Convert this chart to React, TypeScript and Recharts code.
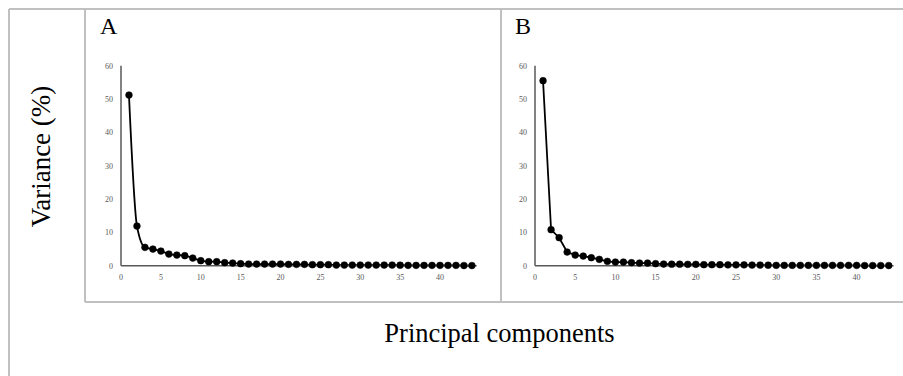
import React from 'react';
import { LineChart, Line, XAxis, YAxis } from 'recharts';

const components: number[] = Array.from({ length: 44 }, (_, i) => i + 1);

const varianceA: number[] = [
  51.2, 11.9, 5.5, 5.0, 4.4, 3.5, 3.2, 3.0, 2.3, 1.5,
  1.2, 1.2, 0.9, 0.8, 0.6, 0.5, 0.5, 0.5, 0.5, 0.5,
  0.4, 0.4, 0.4, 0.3, 0.3, 0.3, 0.2, 0.2, 0.2, 0.2,
  0.2, 0.2, 0.2, 0.2, 0.15, 0.1, 0.1, 0.1, 0.1, 0.1,
  0.1, 0.1, 0.05, 0.05,
];

const varianceB: number[] = [
  55.5, 10.8, 8.4, 4.1, 3.2, 2.9, 2.4, 1.9, 1.3, 1.1,
  1.1, 0.9, 0.8, 0.8, 0.6, 0.5, 0.45, 0.45, 0.4, 0.4,
  0.3, 0.3, 0.3, 0.25, 0.25, 0.25, 0.2, 0.2, 0.15, 0.1,
  0.1, 0.1, 0.1, 0.1, 0.1, 0.1, 0.1, 0.1, 0.1, 0.1,
  0.05, 0.05, 0.05, 0.05,
];

const xTicks: number[] = [0, 5, 10, 15, 20, 25, 30, 35, 40];
const yTicks: number[] = [0, 10, 20, 30, 40, 50, 60];

const panelLabels: string[] = ['A', 'B'];
const yTitle = 'Variance (%)';
const xTitle = 'Principal components';

const dataA = components.map((c, i) => ({ pc: c, v: varianceA[i] }));
const dataB = components.map((c, i) => ({ pc: c, v: varianceB[i] }));

const serif = '"Liberation Serif", "Times New Roman", serif';
const tickStyle = { fontSize: 8, fill: '#595959', fontFamily: serif };
const border = '#c0c0c0';

function Panel({ data, curve, left, top, width, height, margin }: any) {
  return (
    <div style={{ position: 'absolute', left, top, width, height }}>
      <LineChart width={width} height={height} data={data} margin={margin}>
        <XAxis
          dataKey="pc"
          type="number"
          domain={[0, 44.6]}
          ticks={xTicks}
          tickLine={false}
          tickSize={6}
          tickMargin={3}
          height={30}
          axisLine={{ stroke: '#595959', strokeWidth: 1.5 }}
          tick={tickStyle}
          interval={0}
          allowDataOverflow
        />
        <YAxis
          type="number"
          domain={[0, 60]}
          ticks={yTicks}
          tickLine={false}
          tickSize={6}
          tickMargin={2}
          width={30}
          axisLine={{ stroke: '#595959', strokeWidth: 1.5 }}
          tick={tickStyle}
          interval={0}
        />
        <Line
          dataKey="v"
          type={curve}
          stroke="#000"
          strokeWidth={1.8}
          dot={{ r: 3.4, fill: '#000', stroke: '#000', strokeWidth: 0.5 }}
          isAnimationActive={false}
        />
      </LineChart>
    </div>
  );
}

export default function App() {
  return (
    <div
      style={{
        position: 'absolute',
        left: 0,
        top: 0,
        width: 903,
        height: 376,
        background: '#fff',
        overflow: 'hidden',
      }}
    >
      <svg width={903} height={376} style={{ position: 'absolute', left: 0, top: 0 }}>
        <line x1={9} y1={9} x2={903} y2={9} stroke={border} strokeWidth={2} />
        <line x1={9} y1={9} x2={9} y2={376} stroke={border} strokeWidth={2} />
        <line x1={85} y1={9} x2={85} y2={302} stroke={border} strokeWidth={2} />
        <line x1={501} y1={9} x2={501} y2={302} stroke={border} strokeWidth={2} />
        <line x1={85} y1={302} x2={903} y2={302} stroke={border} strokeWidth={2} />
        <text x={100} y={34} fontFamily={serif} fontSize={24} fill="#000">
          {panelLabels[0]}
        </text>
        <text x={515} y={34} fontFamily={serif} fontSize={24} fill="#000">
          {panelLabels[1]}
        </text>
        <text
          x={0}
          y={0}
          transform="translate(49.5,156.5) rotate(-90)"
          textAnchor="middle"
          fontFamily={serif}
          fontSize={27}
          fill="#000"
        >
          {yTitle}
        </text>
        <text x={499.5} y={342} textAnchor="middle" fontFamily={serif} fontSize={26.5} fill="#000">
          {xTitle}
        </text>
      </svg>
      <Panel
        data={dataA}
        curve="monotone"
        left={86}
        top={10}
        width={414}
        height={291}
        margin={{ top: 55.7, right: 23.3, bottom: 5.3, left: 5 }}
      />
      <Panel
        data={dataB}
        curve="linear"
        left={502}
        top={10}
        width={401}
        height={291}
        margin={{ top: 55.7, right: 9.4, bottom: 5.3, left: 3 }}
      />
    </div>
  );
}
